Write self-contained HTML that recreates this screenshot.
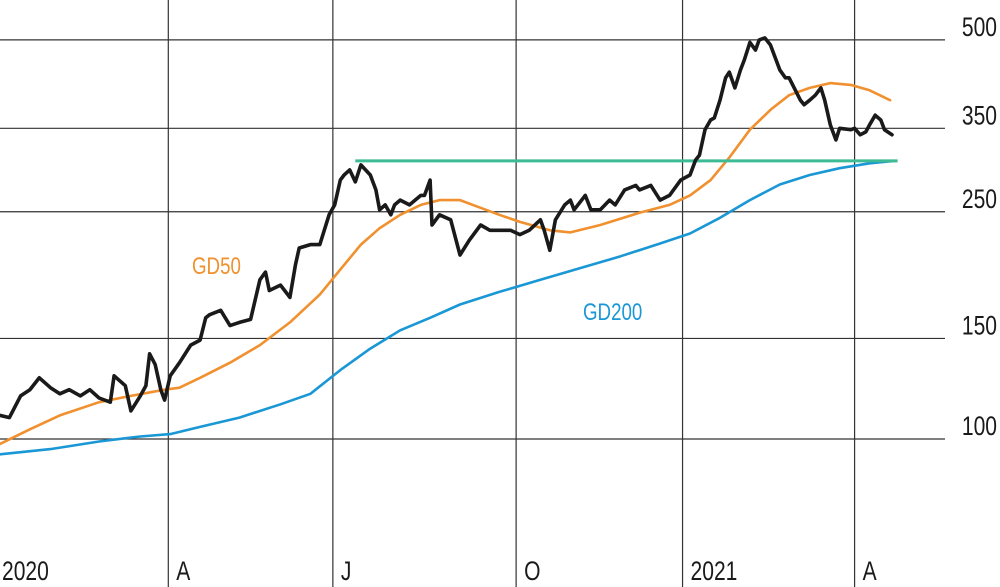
<!DOCTYPE html>
<html><head><meta charset="utf-8"><style>
html,body{margin:0;padding:0;background:#fff;}
svg{display:block;}
text{font-family:"Liberation Sans",sans-serif;}
</style></head><body>
<svg id="chart" width="1000" height="587" viewBox="0 0 1000 587" xmlns="http://www.w3.org/2000/svg">
<g id="grid"></g>
<g id="series"></g>
<g id="labels"></g>
</svg>
<script>
const yTicks=[500,350,250,150,100];
const xTickDays=[0,90,178,276,365,457];
const xTickLabels=["2020","A","J","O","2021","A"];
const priceDays=[0,5,11,16,21,27,32,37,43,48,53,59,61,67,70,75,78,80,83,86,88,91,96,102,107,110,112,118,123,128,134,139,142,144,150,155,158,160,166,171,176,179,182,184,187,190,193,198,201,203,206,209,211,214,219,225,227,230,231,235,241,246,251,257,262,267,273,278,283,289,291,294,297,302,305,307,313,316,321,326,329,334,340,342,348,353,358,364,369,372,374,377,380,382,385,388,390,393,396,398,401,404,406,409,412,417,420,422,428,430,433,436,439,441,444,447,449,455,457,460,463,465,468,471,473,477];
const priceValues=[110,109,119,122,128,123,120,122,119,122,118,116,129,124,112,119,124,141,135,122,117,129,136,146,149,163,165,168,158,160,162,190,196,182,186,177,202,216,219,219,247,257,284,290,296,282,302,290,273,252,257,247,257,262,257,267,267,284,237,247,242,210,223,237,232,232,232,228,232,242,232,214,242,257,262,252,267,252,252,262,257,273,278,273,278,262,267,284,290,308,314,348,362,365,392,429,439,412,443,461,495,480,500,504,490,443,429,429,392,385,392,400,412,392,355,334,350,348,350,341,345,355,369,362,348,341];
const gd50Days=[0,16,32,53,70,88,96,107,123,139,155,171,182,193,203,214,225,235,246,257,267,278,294,305,321,342,358,369,380,390,401,412,422,433,444,455,465,476];
const gd50Values=[98,104,110,116,119,122,123,128,136,146,160,179,198,219,234,247,257,262,262,254,247,240,232,230,237,249,257,267,284,311,348,377,400,412,420,417,408,392];
const gd200Days=[0,27,53,75,91,107,128,150,166,182,198,214,230,246,267,289,310,332,353,369,385,401,417,433,449,465,479];
const gd200Values=[94,96,99,101,102,105,109,115,120,132,144,155,163,172,181,190,199,209,220,229,244,262,279,290,298,304,307];
const resistanceLevel=[307];
const resistanceDays=[190,480];

const NS="http://www.w3.org/2000/svg";
function xS(d){return d*1.87;}
function yS(v){return 439-248*Math.log(v/100);}
function mk(t,a,p){const e=document.createElementNS(NS,t);for(const k in a)e.setAttribute(k,a[k]);p.appendChild(e);return e;}
const grid=document.getElementById('grid'),ser=document.getElementById('series'),lab=document.getElementById('labels');
const SX=0.78;
yTicks.forEach(v=>{
  const y=yS(v);
  const l=mk('line',{x1:0,x2:945,y1:y,y2:y,stroke:'#333','stroke-width':1.2},grid);
  
  
  const t=mk('text',{x:997,y:y-4,'text-anchor':'end','font-size':27,fill:'#1a1a1a',transform:`translate(${997*(1-SX)},0) scale(${SX},1)`},lab);
  t.textContent=v;
  
  
});
xTickDays.forEach((d,i)=>{
  const x=xS(d);
  if(i>0){
    const l=mk('line',{x1:x,x2:x,y1:0,y2:587,stroke:'#333','stroke-width':1.2},grid);
    
    
  }
  const tx=i>0?x+8:2;
  const t=mk('text',{x:tx,y:580,'font-size':27,fill:'#1a1a1a',transform:`translate(${tx*(1-SX)},0) scale(${SX},1)`},lab);
  t.textContent=xTickLabels[i];
  
  
});
function line(days,vals,color,w,name){
  const n=Math.min(days.length,vals.length);let d='';
  for(let i=0;i<n;i++)d+=(i?'L':'M')+xS(days[i]).toFixed(1)+' '+yS(vals[i]).toFixed(1);
  const p=mk('path',{d:d,fill:'none',stroke:color,'stroke-width':w,'stroke-linejoin':'round','stroke-linecap':'round'},ser);
  
  
}
line(gd200Days,gd200Values,'#1a97d5',2.6,'gd200-line');
line(gd50Days,gd50Values,'#f0902e',2.6,'gd50-line');
const ry=yS(resistanceLevel[0]);
const rl=mk('line',{x1:xS(resistanceDays[0]),x2:xS(resistanceDays[1]),y1:ry,y2:ry,stroke:'#3dbb94','stroke-width':3},ser);


line(priceDays,priceValues,'#1a1a1a',3.6,'price-line');
const g50=mk('text',{x:192,y:274,'font-size':24,fill:'#f0902e',transform:`translate(${192*(1-SX)},0) scale(${SX},1)`},lab);
g50.textContent='GD50';


const g200=mk('text',{x:583,y:320,'font-size':24,fill:'#1a97d5',transform:`translate(${583*(1-SX)},0) scale(${SX},1)`},lab);
g200.textContent='GD200';


</script>
</body></html>
